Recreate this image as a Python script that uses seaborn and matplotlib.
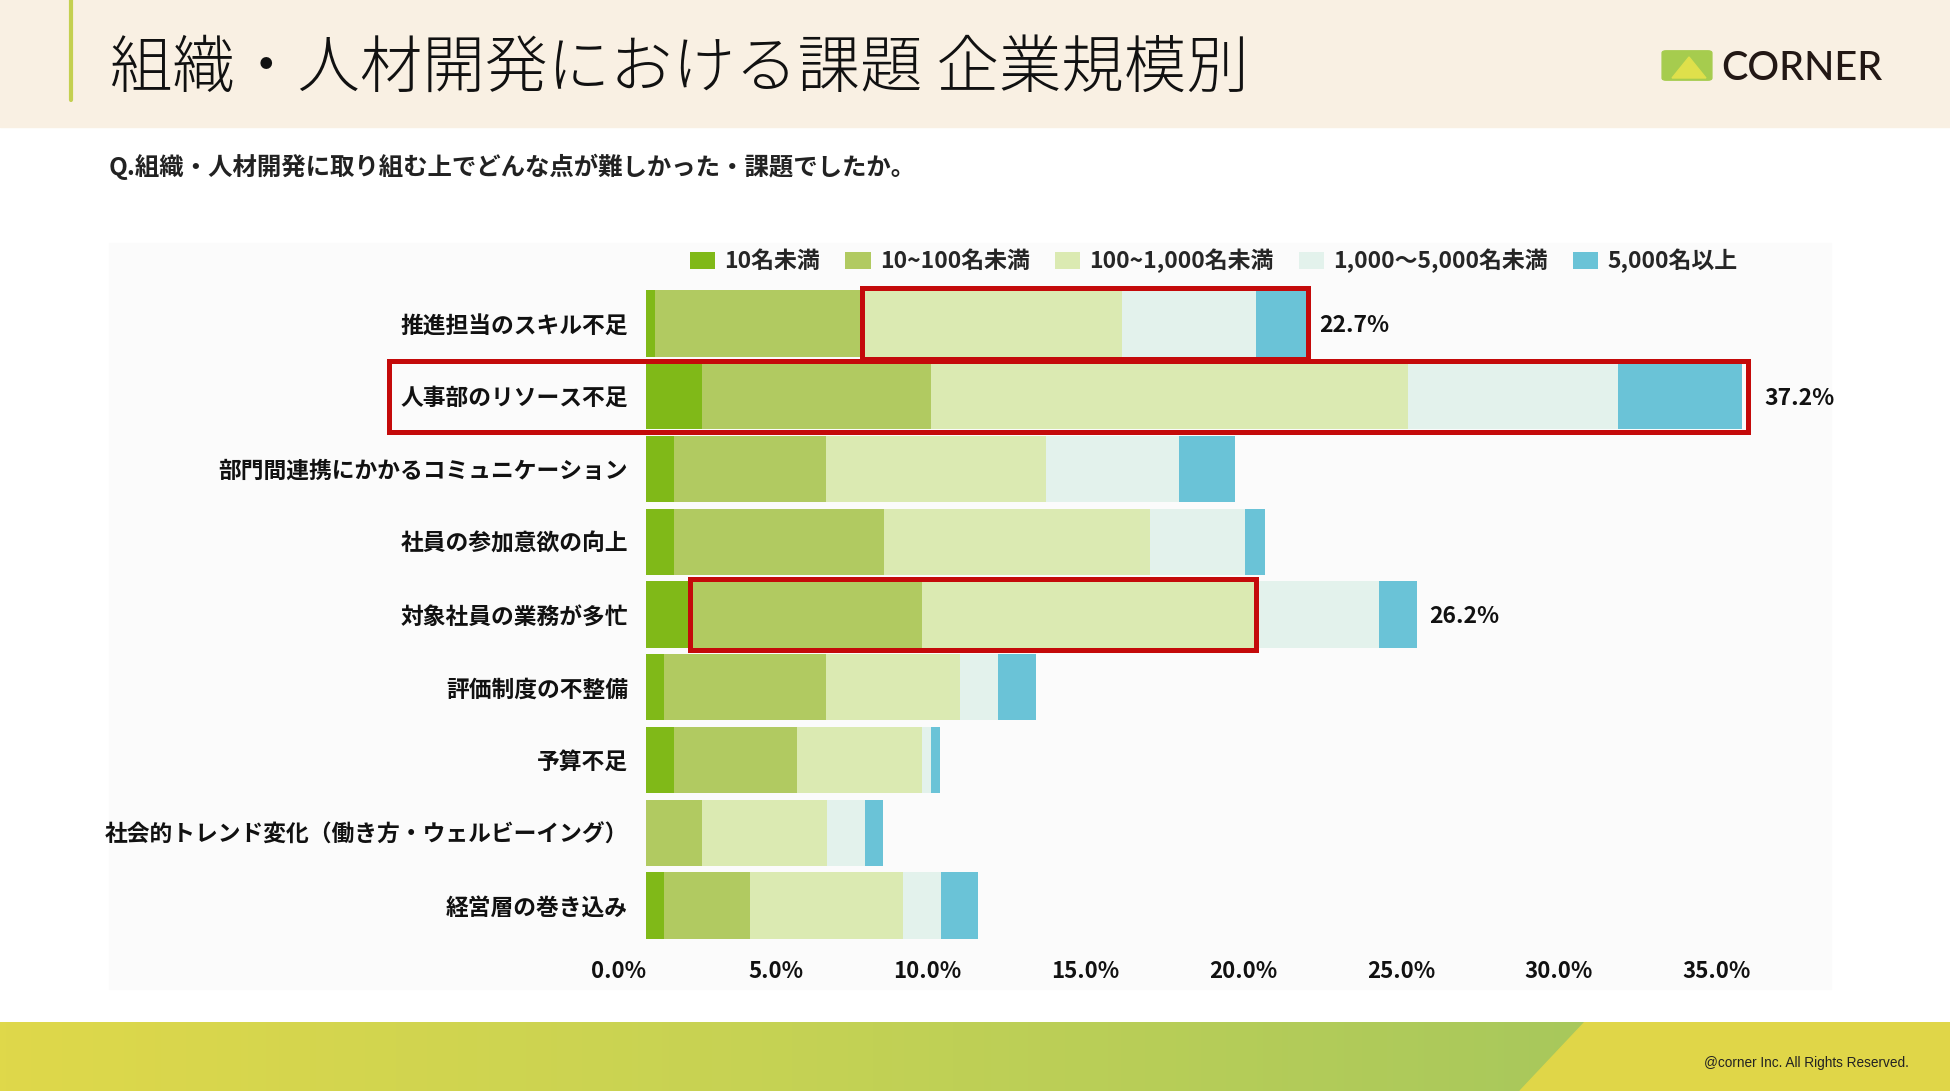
import numpy as np
import pandas as pd
import matplotlib
matplotlib.use('Agg')
import matplotlib.pyplot as plt
import seaborn as sns
from matplotlib.patches import Rectangle, Polygon, FancyBboxPatch, Patch
from matplotlib.lines import Line2D
from matplotlib.colors import LinearSegmentedColormap

# ─────────────────────────────────────────────
# DATA (% of respondents)
# ─────────────────────────────────────────────
categories = ['推進担当のスキル不足', '人事部のリソース不足', '部門間連携にかかるコミュニケーション',
              '社員の参加意欲の向上', '対象社員の業務が多忙', '評価制度の不整備', '予算不足',
              '社会的トレンド変化（働き方・ウェルビーイング）', '経営層の巻き込み']
size_labels = ['10名未満', '10~100名未満', '100~1,000名未満', '1,000〜5,000名未満', '5,000名以上']

under_10   = [0.29, 1.77, 0.90, 0.90, 1.38, 0.58, 0.90, 0.00, 0.58]
s10_100    = [6.55, 7.27, 4.80, 6.64, 7.37, 5.12, 3.90, 1.79, 2.72]
s100_1000  = [8.24, 15.11, 6.96, 8.44, 10.57, 4.24, 3.95, 3.93, 4.85]
s1000_5000 = [4.24, 6.64, 4.24, 3.01, 3.91, 1.21, 0.29, 1.21, 1.21]
over_5000  = [1.65, 3.93, 1.77, 0.61, 1.21, 1.21, 0.29, 0.58, 1.17]

total_labels = ['22.7%', '37.2%', '', '', '26.2%', '', '', '', '']
x_ticks = [0, 5, 10, 15, 20, 25, 30, 35]

colors = ['#80b918', '#b1ca61', '#dbeab2', '#e3f2ec', '#6ac3d7']

# ─────────────────────────────────────────────
# STYLE
# ─────────────────────────────────────────────
sns.set_theme(style='white')
plt.rcParams['font.family'] = ['Noto Sans CJK JP', 'DejaVu Sans']

W, H = 1950, 1091
fig = plt.figure(figsize=(W / 100, H / 100), dpi=100)
fig.patch.set_facecolor('white')

# header band + accent line
fig.add_artist(Rectangle((0, 1 - 127 / H), 1, 127 / H, transform=fig.transFigure,
                         color='#f9f0e3', zorder=0))
fig.add_artist(Line2D([71 / W, 71 / W], [1 - 100 / H, 1], transform=fig.transFigure,
                      color='#c4d050', lw=3, zorder=1))
fig.text(110 / W, 1 - 70 / H, '組織・人材開発における課題 企業規模別', fontsize=45,
         fontweight='light', color='#111111', va='center', ha='left')

# logo
fig.add_artist(FancyBboxPatch((1666 / W, 1 - 78 / H), 42 / W, 25 / H,
                              boxstyle='round,pad=0.002', transform=fig.transFigure,
                              color='#a6cc4e', zorder=1))
fig.add_artist(Polygon([(1672 / W, 1 - 78 / H), (1689 / W, 1 - 57 / H), (1706 / W, 1 - 78 / H)],
                       closed=True, transform=fig.transFigure, color='#dfe04b', zorder=2))
fig.text(1721 / W, 1 - 68 / H, 'CORNER', fontsize=28.5, color='#231815', va='center',
         ha='left', family='Lato', fontweight='medium')

# question
fig.text(109 / W, 1 - 167 / H, 'Q.組織・人材開発に取り組む上でどんな点が難しかった・課題でしたか。',
         fontsize=17.6, fontweight='bold', color='#222222', va='center', ha='left')

# faint chart panel
fig.add_artist(Rectangle((109 / W, 1 - 989 / H), (1831 - 109) / W, (989 - 243) / H,
                         transform=fig.transFigure, color='#fbfbfb', zorder=0))

# bottom band
band = fig.add_axes([0, 0, 1, (H - 1022) / H])
band.set_zorder(0)
cmap = LinearSegmentedColormap.from_list('band', ['#dfd84a', '#c5d254', '#a8c85c'])
band.imshow(np.linspace(0, 1, 256)[None, :], cmap=cmap, aspect='auto',
            extent=[0, 1585, 0, 69])
band.add_patch(Polygon([(1520, 0), (1585, 69), (W, 69), (W, 0)], closed=True, color='#e0d648'))
band.set_xlim(0, W)
band.set_ylim(0, 69)
band.axis('off')
fig.text(1909 / W, 1 - 1063 / H, '@corner Inc. All Rights Reserved.', fontsize=9.8,
         family='Liberation Sans', color='#222222', ha='right', va='center')

# ─────────────────────────────────────────────
# STACKED BARS
# ─────────────────────────────────────────────
px_per_pct = 31.56
x0_px = 646
xmax = 37.5
top_px, bot_px = 287, 942
ax = fig.add_axes([x0_px / W, 1 - bot_px / H, xmax * px_per_pct / W, (bot_px - top_px) / H])
ax.set_zorder(3)
ax.patch.set_visible(False)

series = [under_10, s10_100, s100_1000, s1000_5000, over_5000]
df = pd.DataFrame({'category': categories})
cum = np.zeros(len(categories))
for name, vals in zip(size_labels, series):
    cum = cum + np.array(vals)
    df[name] = cum

# draw from the full total down so each shorter cumulative bar covers the previous
for name, col in reversed(list(zip(size_labels, colors))):
    sns.barplot(data=df, x=name, y='category', orient='h', color=col, saturation=1,
                width=0.91, linewidth=0, ax=ax)

totals = df[size_labels[-1]].values
for i, lab in enumerate(total_labels):
    if lab:
        pad = 0.7 if i == 1 else 0.36
        ax.text(totals[i] + pad, i + 0.03, lab, va='center', ha='left', fontsize=16.5,
                fontweight='bold', color='#111111')

# red highlight boxes
red = '#c40a0a'
c1 = np.array(under_10)
c2 = c1 + np.array(s10_100)
c3 = c2 + np.array(s100_1000)
boxes = [(c2[0], totals[0], 0), (-8.15, totals[1] + 0.2, 1), (c1[4], c3[4], 4)]
for xa, xb, row in boxes:
    ax.add_patch(Rectangle((xa, row - 0.49), xb - xa, 0.98, fill=False, ec=red, lw=3.6,
                           clip_on=False, zorder=10))

ax.set_xlim(0, xmax)
ax.set_ylim(len(categories) - 0.5, -0.5)
ax.set_xticks(x_ticks)
ax.set_xticklabels([f'{v:.1f}%' for v in x_ticks], ha='right', fontsize=16,
                   fontweight='bold', color='#111111')
ax.set_yticks(range(len(categories)))
ax.set_yticklabels(categories, fontsize=16.4, fontweight='bold', color='#111111')
ax.tick_params(axis='x', length=0, pad=13)
ax.tick_params(axis='y', length=0, pad=13)
ax.set_xlabel('')
ax.set_ylabel('')
for s in ax.spines.values():
    s.set_visible(False)

handles = [Patch(facecolor=c, edgecolor='none') for c in colors]
fig.legend(handles, size_labels, loc='center left', bbox_to_anchor=(690 / W, 1 - 261 / H),
           ncol=5, frameon=False, borderpad=0, borderaxespad=0, handlelength=1.1,
           handleheight=0.8, handletextpad=0.4, columnspacing=1.1,
           prop={'family': ['Noto Sans CJK JP', 'DejaVu Sans'], 'weight': 'bold', 'size': 16.5})

fig.savefig('out.png', dpi=100)
